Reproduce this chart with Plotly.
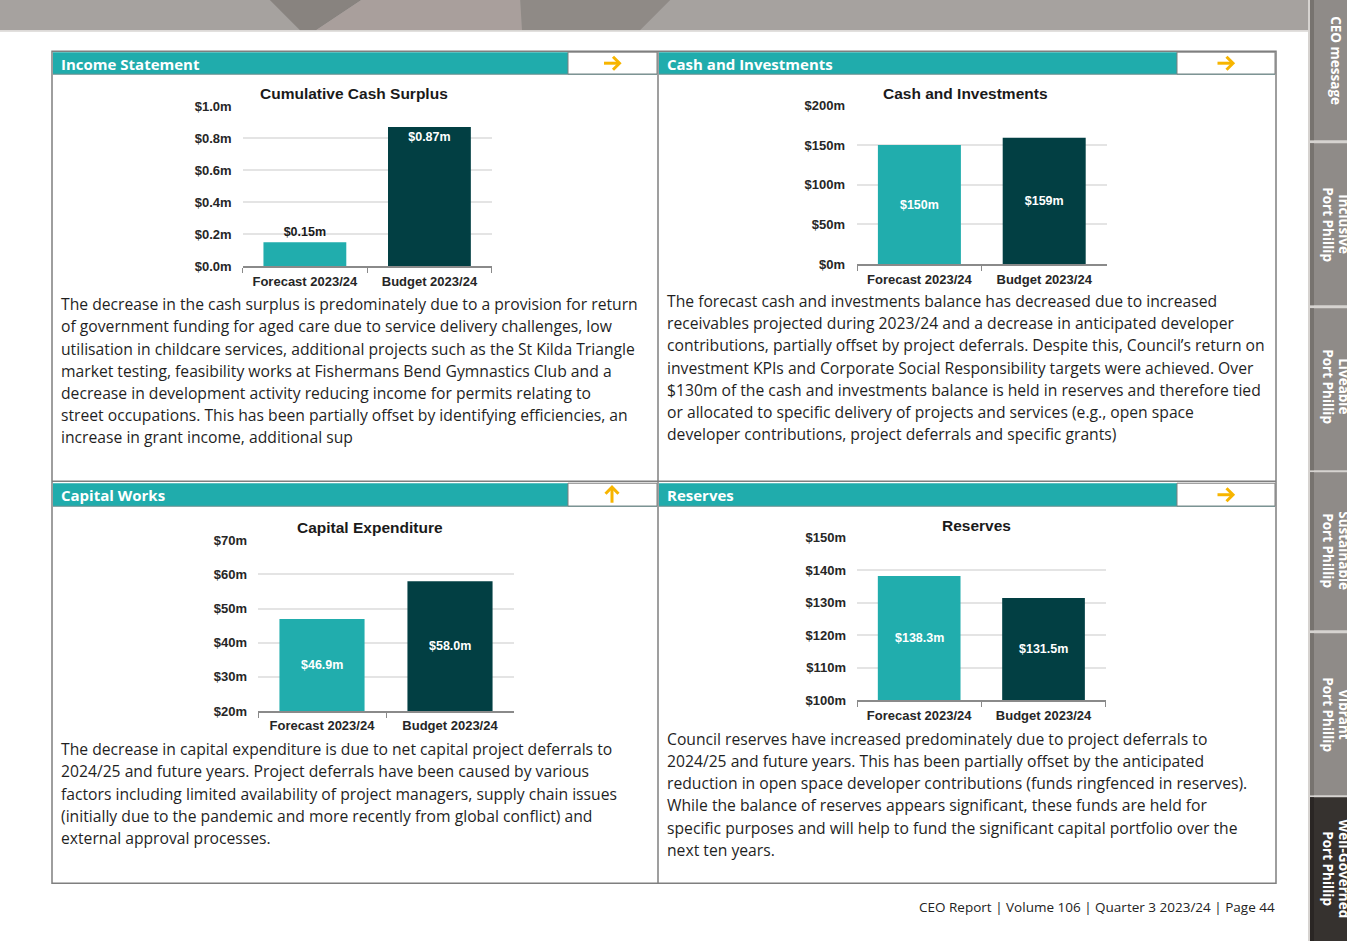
import plotly.graph_objects as go

W, H = 1347, 941
# the photographed page is drawn about 1.6% shorter and ~7px lower; map reference rows onto page rows
VSCALE, VOFF = 0.984, 6.8


def X(p):
    return p / W


def Y(p):
    return 1 - ((p - VOFF) / VSCALE) / H


# ---------------- data ----------------
categories = ["Forecast 2023/24", "Budget 2023/24"]

surplus_values = [0.15, 0.87]
surplus_labels = ["$0.15m", "$0.87m"]
surplus_tickvals = [0.0, 0.2, 0.4, 0.6, 0.8, 1.0]
surplus_ticktext = ["$0.0m", "$0.2m", "$0.4m", "$0.6m", "$0.8m", "$1.0m"]

cash_values = [150, 159]
cash_labels = ["$150m", "$159m"]
cash_tickvals = [0, 50, 100, 150, 200]
cash_ticktext = ["$0m", "$50m", "$100m", "$150m", "$200m"]

capex_values = [46.9, 58.0]
capex_labels = ["$46.9m", "$58.0m"]
capex_tickvals = [20, 30, 40, 50, 60, 70]
capex_ticktext = ["$20m", "$30m", "$40m", "$50m", "$60m", "$70m"]

reserves_values = [138.3, 131.5]
reserves_labels = ["$138.3m", "$131.5m"]
reserves_tickvals = [100, 110, 120, 130, 140, 150]
reserves_ticktext = ["$100m", "$110m", "$120m", "$130m", "$140m", "$150m"]

panel_titles = ["Income Statement", "Cash and Investments", "Capital Works", "Reserves"]
chart_titles = ["Cumulative Cash Surplus", "Cash and Investments", "Capital Expenditure", "Reserves"]

para_income = [
    "The decrease in the cash surplus is predominately due to a provision for return",
    "of government funding for aged care due to service delivery challenges, low",
    "utilisation in childcare services, additional projects such as the St Kilda Triangle",
    "market testing, feasibility works at Fishermans Bend Gymnastics Club and a",
    "decrease in development activity reducing income for permits relating to",
    "street occupations. This has been partially offset by identifying efficiencies, an",
    "increase in grant income, additional sup",
]
para_cash = [
    "The forecast cash and investments balance has decreased due to increased",
    "receivables projected during 2023/24 and a decrease in anticipated developer",
    "contributions, partially offset by project deferrals. Despite this, Council\u2019s return on",
    "investment KPIs and Corporate Social Responsibility targets were achieved. Over",
    "$130m of the cash and investments balance is held in reserves and therefore tied",
    "or allocated to specific delivery of projects and services (e.g., open space",
    "developer contributions, project deferrals and specific grants)",
]
para_capex = [
    "The decrease in capital expenditure is due to net capital project deferrals to",
    "2024/25 and future years. Project deferrals have been caused by various",
    "factors including limited availability of project managers, supply chain issues",
    "(initially due to the pandemic and more recently from global conflict) and",
    "external approval processes.",
]
para_reserves = [
    "Council reserves have increased predominately due to project deferrals to",
    "2024/25 and future years. This has been partially offset by the anticipated",
    "reduction in open space developer contributions (funds ringfenced in reserves).",
    "While the balance of reserves appears significant, these funds are held for",
    "specific purposes and will help to fund the significant capital portfolio over the",
    "next ten years.",
]

tabs = [
    ("CEO message", ""),
    ("Inclusive", "Port Phillip"),
    ("Liveable", "Port Phillip"),
    ("Sustainable", "Port Phillip"),
    ("Vibrant", "Port Phillip"),
    ("Well-Governed", "Port Phillip"),
]

footer = "CEO Report | Volume 106 | Quarter 3 2023/24 | Page 44"

# ---------------- style ----------------
TEAL = "#20acac"
FORECAST = "#21adad"
BUDGET = "#023f43"
YELLOW = "#f7b500"
FRAME = "#7f7f7f"
CHART_FONT = "Arial, 'Liberation Sans', sans-serif"
BODY_FONT = "'Open Sans', 'Noto Sans', sans-serif"

fig = go.Figure()

charts = [
    dict(ax="", vals=surplus_values, labels=surplus_labels, tv=surplus_tickvals, tt=surplus_ticktext,
         xd=(242.6, 491.7), yd=(106, 266), yr=(0, 1.0), mode="bartext", pos=["outside", "inside"],
         anchor="end", stand=10),
    dict(ax="2", vals=cash_values, labels=cash_labels, tv=cash_tickvals, tt=cash_ticktext,
         xd=(857, 1106.6), yd=(105, 264), yr=(0, 200), mode="bartext", pos=["inside", "inside"],
         anchor="middle", stand=11),
    dict(ax="3", vals=capex_values, labels=capex_labels, tv=capex_tickvals, tt=capex_ticktext,
         xd=(258, 514), yd=(540, 710.7), yr=(20, 70), mode="annot", pos=None, anchor=None, stand=10),
    dict(ax="4", vals=reserves_values, labels=reserves_labels, tv=reserves_tickvals, tt=reserves_ticktext,
         xd=(857, 1105.7), yd=(537.7, 700), yr=(100, 150), mode="annot", pos=None, anchor=None, stand=10),
]

shapes = []
annotations = []
layout_axes = {}
LABEL_FONT_IN = dict(family=CHART_FONT, size=12.5, color="white", weight="bold")
LABEL_FONT_OUT = dict(family=CHART_FONT, size=12.5, color="#1a1a1a", weight="bold")

for c in charts:
    bar = dict(
        x=categories, y=c["vals"], width=0.665,
        marker=dict(color=[FORECAST, BUDGET], line=dict(width=0)),
        cliponaxis=True,
        xaxis="x" + c["ax"], yaxis="y" + c["ax"], showlegend=False, hoverinfo="skip",
    )
    if c["mode"] == "bartext":
        bar.update(text=c["labels"], textposition=c["pos"], insidetextanchor=c["anchor"],
                   insidetextfont=LABEL_FONT_IN, outsidetextfont=LABEL_FONT_OUT,
                   constraintext="none", cliponaxis=False)
    else:
        ymin = c["yr"][0]
        for cat, v, lab in zip(categories, c["vals"], c["labels"]):
            annotations.append(dict(xref="x" + c["ax"], yref="y" + c["ax"], x=cat, y=(ymin + v) / 2,
                                    text=lab, showarrow=False, font=LABEL_FONT_IN,
                                    xanchor="center", yanchor="middle"))
    fig.add_trace(go.Bar(**bar))
    layout_axes["xaxis" + c["ax"]] = dict(
        domain=[X(c["xd"][0]), X(c["xd"][1])], anchor="y" + c["ax"],
        showline=True, linecolor="#8a8a8a", linewidth=1.5,
        ticks="outside", tickson="boundaries", ticklen=5, tickcolor="#8a8a8a", tickwidth=1.2,
        ticklabelstandoff=2,
        tickfont=dict(family=CHART_FONT, size=13, color="#262626", weight="bold"),
        showgrid=False, fixedrange=True,
    )
    layout_axes["yaxis" + c["ax"]] = dict(
        domain=[Y(c["yd"][1]), Y(c["yd"][0])], anchor="x" + c["ax"],
        range=list(c["yr"]), tickvals=c["tv"], ticktext=c["tt"],
        showgrid=True, gridcolor="#e4e4e4", gridwidth=2, zeroline=False,
        showline=False, ticks="", ticklabelstandoff=c["stand"],
        tickfont=dict(family=CHART_FONT, size=13, color="#262626", weight="bold"),
        fixedrange=True,
    )


def rect(x0, y0, x1, y1, fill, line=None, lw=0):
    shapes.append(dict(type="rect", xref="paper", yref="paper",
                       x0=X(x0), x1=X(x1), y0=Y(y1), y1=Y(y0),
                       fillcolor=fill, line=dict(color=line or fill, width=lw), layer="below"))


def poly(points, fill):
    path = "M " + " L ".join(f"{X(px)},{Y(py)}" for px, py in points) + " Z"
    shapes.append(dict(type="path", xref="paper", yref="paper", path=path,
                       fillcolor=fill, line=dict(width=0), layer="below"))


def polyline(points, color, w):
    path = "M " + " L ".join(f"{X(px)},{Y(py)}" for px, py in points)
    shapes.append(dict(type="path", xref="paper", yref="paper", path=path,
                       fillcolor="rgba(0,0,0,0)", line=dict(color=color, width=w), layer="above"))


def line(x0, y0, x1, y1, color=FRAME, w=1.5):
    shapes.append(dict(type="line", xref="paper", yref="paper",
                       x0=X(x0), x1=X(x1), y0=Y(y0), y1=Y(y1),
                       line=dict(color=color, width=w), layer="above"))


def text(x, y, s, size, color, family=BODY_FONT, xanchor="left", weight="normal", angle=0):
    annotations.append(dict(xref="paper", yref="paper", x=X(x), y=Y(y), text=s,
                            showarrow=False, xanchor=xanchor, yanchor="middle",
                            textangle=angle,
                            font=dict(family=family, size=size, color=color, weight=weight)))


# top banner
rect(0, -20, 1310, 30, "#a6a29f")
poly([(250, -20), (391, -20), (316, 30), (300, 30)], "#88837f")
poly([(391, -20), (519, -20), (522, 30), (316, 30)], "#a99f9c")
poly([(519, -20), (690, -20), (640, 30), (522, 30)], "#8f8a86")
rect(0, 30, 1310, 31.5, "#d9d6d3")

# side tabs
tab_spans = [(-20, 140), (143, 305), (308, 470), (472, 630), (633, 795), (797, 960)]
tab_colors = ["#8f8b88", "#8f8b88", "#8f8b88", "#8f8b88", "#8f8b88", "#36322f"]
tab_centers = [60, 224, 386, 550, 714, 868]
rect(1308, -20, 1347, 960, "#d6d3d0")
for (t0, t1), col in zip(tab_spans, tab_colors):
    rect(1310, t0, 1347, t1, col)
    rect(1310, t0, 1314, t1, "#77736f" if col != "#36322f" else "#2a2624")
for (l1, l2), cy in zip(tabs, tab_centers):
    if l2:
        text(1344, cy, l1, 13.5, "white", xanchor="center", weight="bold", angle=90)
        text(1328, cy, l2, 13.5, "white", xanchor="center", weight="bold", angle=90)
    else:
        text(1336, cy, l1, 13.5, "white", xanchor="center", weight="bold", angle=90)

# frame
shapes.append(dict(type="rect", xref="paper", yref="paper", x0=X(52), x1=X(1276), y0=Y(883), y1=Y(51),
                   line=dict(color=FRAME, width=1.5), fillcolor="rgba(0,0,0,0)", layer="above"))
line(658, 51, 658, 883)
line(52, 481, 1276, 481)

# panel headers
headers = [
    (53, 568, 657, 52, 74, panel_titles[0], "right"),
    (659, 1177, 1275, 52, 74, panel_titles[1], "right"),
    (53, 568, 657, 483, 506, panel_titles[2], "up"),
    (659, 1177, 1275, 483, 506, panel_titles[3], "right"),
]
for x0, xm, x1, y0, y1, title, arrow in headers:
    rect(x0, y0, xm, y1, TEAL)
    shapes.append(dict(type="rect", xref="paper", yref="paper", x0=X(xm), x1=X(x1), y0=Y(y1), y1=Y(y0),
                       line=dict(color=FRAME, width=1), fillcolor="white", layer="below"))
    line(x0, y1, x1, y1, "#6d8f8f", 1)
    text(x0 + 6, (y0 + y1) / 2 + 0.5, title, 15, "white", weight="bold")
    ax_, ay_ = (xm + x1) / 2 - 0.5, (y0 + y1) / 2
    if arrow == "right":
        polyline([(ax_ - 8, ay_), (ax_ + 7, ay_)], YELLOW, 3)
        polyline([(ax_ + 1, ay_ - 6.5), (ax_ + 7.5, ay_), (ax_ + 1, ay_ + 6.5)], YELLOW, 3)
    else:
        polyline([(ax_, ay_ + 8), (ax_, ay_ - 7)], YELLOW, 3)
        polyline([(ax_ - 6.5, ay_ - 1), (ax_, ay_ - 7.5), (ax_ + 6.5, ay_ - 1)], YELLOW, 3)

# chart titles
for (cx, cy), t in zip([(354, 93), (965, 93), (370, 527), (976, 525)], chart_titles):
    text(cx, cy, t, 15.5, "#1a1a1a", family=CHART_FONT, xanchor="center", weight="bold")

# paragraphs
paras = [
    (59, [304, 326, 349, 371, 393, 415, 437], para_income),
    (665, [301, 323, 345, 368, 390, 412, 434], para_cash),
    (59, [749, 771, 794, 816, 838], para_capex),
    (665, [739, 761, 783, 805, 828, 850], para_reserves),
]
for x0, ys, lines in paras:
    for yy, s in zip(ys, lines):
        text(x0, yy, s, 15.7, "#1f1f1f")

# footer
text(1277, 907, footer, 13.5, "#222222", xanchor="right")

fig.update_layout(
    width=W, height=H, autosize=False,
    margin=dict(l=0, r=0, t=0, b=0),
    paper_bgcolor="white", plot_bgcolor="white",
    shapes=shapes, annotations=annotations,
    bargap=0.335,
    **layout_axes,
)

page_fix = (
    "document.documentElement.style.margin='0';"
    "document.body.style.margin='0';document.body.style.padding='0';"
    "document.body.style.overflow='hidden';document.documentElement.style.overflow='hidden';"
    "var gd=document.getElementById('{plot_id}');"
    "gd.style.position='absolute';gd.style.left='0px';gd.style.top='0px';"
)

fig.write_html("out.html", config={"displayModeBar": False}, post_script=page_fix)
